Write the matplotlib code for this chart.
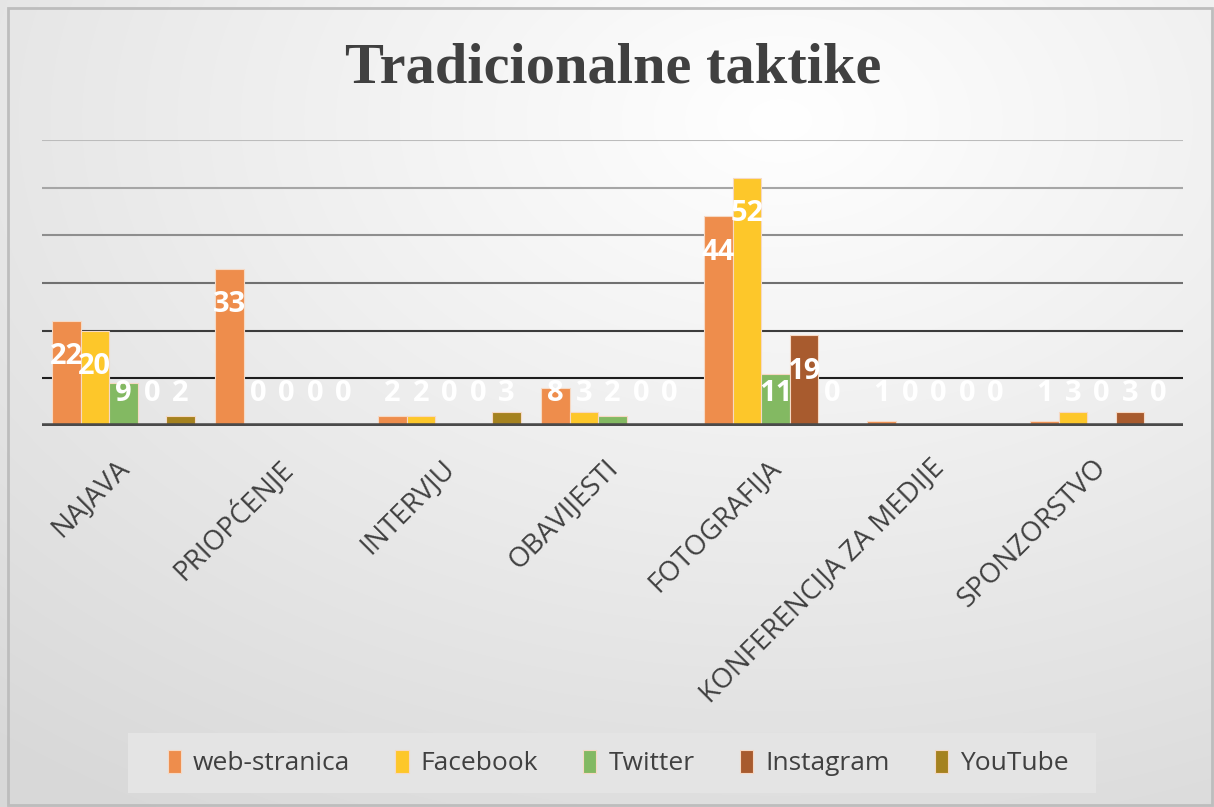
import numpy as np
import matplotlib
matplotlib.use("Agg")
from matplotlib import pyplot as plt
from matplotlib.patches import Rectangle
from matplotlib.transforms import ScaledTranslation

categories = ["NAJAVA", "PRIOPĆENJE", "INTERVJU", "OBAVIJESTI",
              "FOTOGRAFIJA", "KONFERENCIJA ZA MEDIJE", "SPONZORSTVO"]
series = ["web-stranica", "Facebook", "Twitter", "Instagram", "YouTube"]
webStranica = [22, 33, 2, 8, 44, 1, 1]
facebook = [20, 0, 2, 3, 52, 0, 3]
twitter = [9, 0, 0, 2, 11, 0, 0]
instagram = [0, 0, 0, 0, 19, 0, 3]
youtube = [2, 0, 3, 0, 0, 0, 0]
values = [webStranica, facebook, twitter, instagram, youtube]

colors = ["#EE8D4C", "#FDC72A", "#83B962", "#A85B2E", "#A5821F"]
textColor = "#404040"

fig = plt.figure(figsize=(12.14, 8.07), dpi=100)

# fond: degrade radial blanc -> gris
bg = fig.add_axes([0, 0, 1, 1])
yy, xx = np.mgrid[0:807, 0:1214]
r = np.sqrt(((xx - 780) / 1214) ** 2 + ((yy - 120) / 807) ** 2)
shade = 1.0 - 0.15 * np.clip(r / 1.0, 0, 1)
img = np.dstack([shade, shade, shade])
bg.imshow(img, aspect="auto", extent=[0, 1, 0, 1], interpolation="bilinear")
bg.add_patch(Rectangle((8 / 1214, 2 / 807), 1204 / 1214, 797 / 807, fill=False,
                       edgecolor="#bdbdbd", lw=2, transform=bg.transAxes))
bg.set_xlim(0, 1)
bg.set_ylim(0, 1)
bg.axis("off")

ax = fig.add_axes([42 / 1214, 1 - 426 / 807, 1141 / 1214, 286 / 807])
ax.patch.set_alpha(0)
for s in ax.spines.values():
    s.set_visible(False)

# lignes de grille, plus foncees vers le bas
gridColors = ["#1e1e1e", "#3c3c3c", "#707070", "#8e8e8e", "#a6a6a6", "#bcbcbc"]
for k, g in enumerate(range(10, 70, 10)):
    ax.axhline(g, color=gridColors[k], lw=1.5, zorder=1)
ax.axhline(0, color="#4a4a4a", lw=4, zorder=3)

w = 0.175
x = np.arange(len(categories))
for j in range(len(series)):
    pos = x + (j - 2) * w
    ax.bar(pos, values[j], width=w, color=colors[j], edgecolor="#f6d9c4",
           linewidth=0.8, label=series[j], zorder=2)
    for p, v in zip(pos, values[j]):
        ax.text(p, max(v - 7.5, 6.9), str(v), ha="center", va="center",
                color="white", fontsize=21, fontweight="bold",
                family="Open Sans", zorder=4)

ax.set_xlim(-0.5, 6.5)
ax.set_ylim(0, 60)
ax.set_yticks([])
ax.set_xticks(x)
ax.set_xticklabels(categories, rotation=45, ha="right", rotation_mode="anchor",
                   fontsize=20, color=textColor, family="Open Sans")
ax.tick_params(axis="x", length=0, pad=20)
shift = ScaledTranslation(-9 / 100, 0, fig.dpi_scale_trans)
for lab in ax.get_xticklabels():
    lab.set_transform(lab.get_transform() + shift)

fig.text(0.505, 0.915, "Tradicionalne taktike", ha="center", va="center",
         fontsize=42, fontweight="bold", family="Liberation Serif", color=textColor)

# legende
bg.add_patch(Rectangle((128 / 1214, 1 - 793 / 807), 968 / 1214, 60 / 807,
                       facecolor="#e4e4e4", edgecolor="none", transform=bg.transAxes))
leg = fig.legend(loc="center", bbox_to_anchor=(618 / 1214, 1 - 763 / 807), ncol=5,
                 frameon=False, handlelength=0.5, handleheight=1.0,
                 handletextpad=0.45, columnspacing=1.72,
                 prop={"family": "Open Sans", "size": 19})
for t in leg.get_texts():
    t.set_color(textColor)

plt.savefig("out.png", dpi=100)
